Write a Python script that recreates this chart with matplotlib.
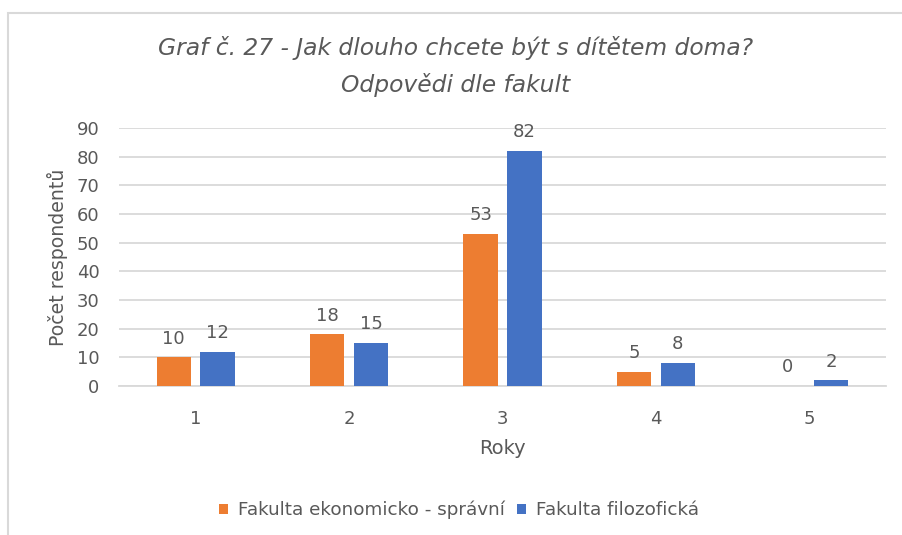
import matplotlib
matplotlib.use("Agg")
import matplotlib.pyplot as plt
import numpy as np

categories = ["1", "2", "3", "4", "5"]
series_names = ["Fakulta ekonomicko - správní", "Fakulta filozofická"]
fes_values = [10, 18, 53, 5, 0]
ff_values = [12, 15, 82, 8, 2]
colors = ["#ED7D31", "#4472C4"]

plt.rcParams['font.family'] = ['DejaVu Sans']
gray = "#595959"

fig = plt.figure(figsize=(9.02, 5.35), dpi=100)
# chart border
fig.patches.append(plt.Rectangle((8/902, -0.05), 1.0, 1 - 13/535 + 0.05, transform=fig.transFigure,
                                 fill=False, edgecolor="#d9d9d9", linewidth=1.5))

ax = fig.add_axes([119/902, 1 - 386/535, (886-119)/902, (386-128)/535])
x = np.arange(len(categories))
w = 0.225
ax.bar(x - 0.143, fes_values, w, color=colors[0], label=series_names[0], zorder=3)
ax.bar(x + 0.143, ff_values, w, color=colors[1], label=series_names[1], zorder=3)

for xi, v in zip(x, fes_values):
    ax.text(xi - 0.143, v + 3.4, str(v), ha="center", va="bottom", fontsize=13, color=gray)
for xi, v in zip(x, ff_values):
    ax.text(xi + 0.143, v + 3.4, str(v), ha="center", va="bottom", fontsize=13, color=gray)

ax.set_xlim(-0.5, len(categories) - 0.5)
ax.set_ylim(0, 90)
ax.set_yticks(range(0, 91, 10))
ax.set_xticks(x)
ax.set_xticklabels(categories)
ax.yaxis.grid(True, color="#d9d9d9", linewidth=1.3, zorder=0)
for s in ["top", "right", "left"]:
    ax.spines[s].set_visible(False)
ax.spines["bottom"].set_color("#d9d9d9")
ax.spines["bottom"].set_linewidth(1.3)
ax.tick_params(axis="y", length=0, labelsize=13, colors=gray, pad=14)
ax.tick_params(axis="x", length=0, labelsize=13, colors=gray, pad=17.5)

ax.set_xlabel("Roky", fontsize=14, color=gray, labelpad=7.5)
ax.set_ylabel("Počet respondentů", fontsize=13.6, color=gray, labelpad=6)

fig.text(456/902, 1 - 66.5/535, "Graf č. 27 - Jak dlouho chcete být s dítětem doma?\nOdpovědi dle fakult",
         ha="center", va="center", fontsize=16.8, style="italic", color=gray, linespacing=1.65)

leg = fig.legend(loc="center", bbox_to_anchor=(459/902, 1 - 510/535), ncol=2, frameon=False,
                 fontsize=13.2, handlelength=0.45, handleheight=0.45, handletextpad=0.55, columnspacing=0.7,
                 labelcolor=gray)

fig.savefig("out.png", dpi=100)
